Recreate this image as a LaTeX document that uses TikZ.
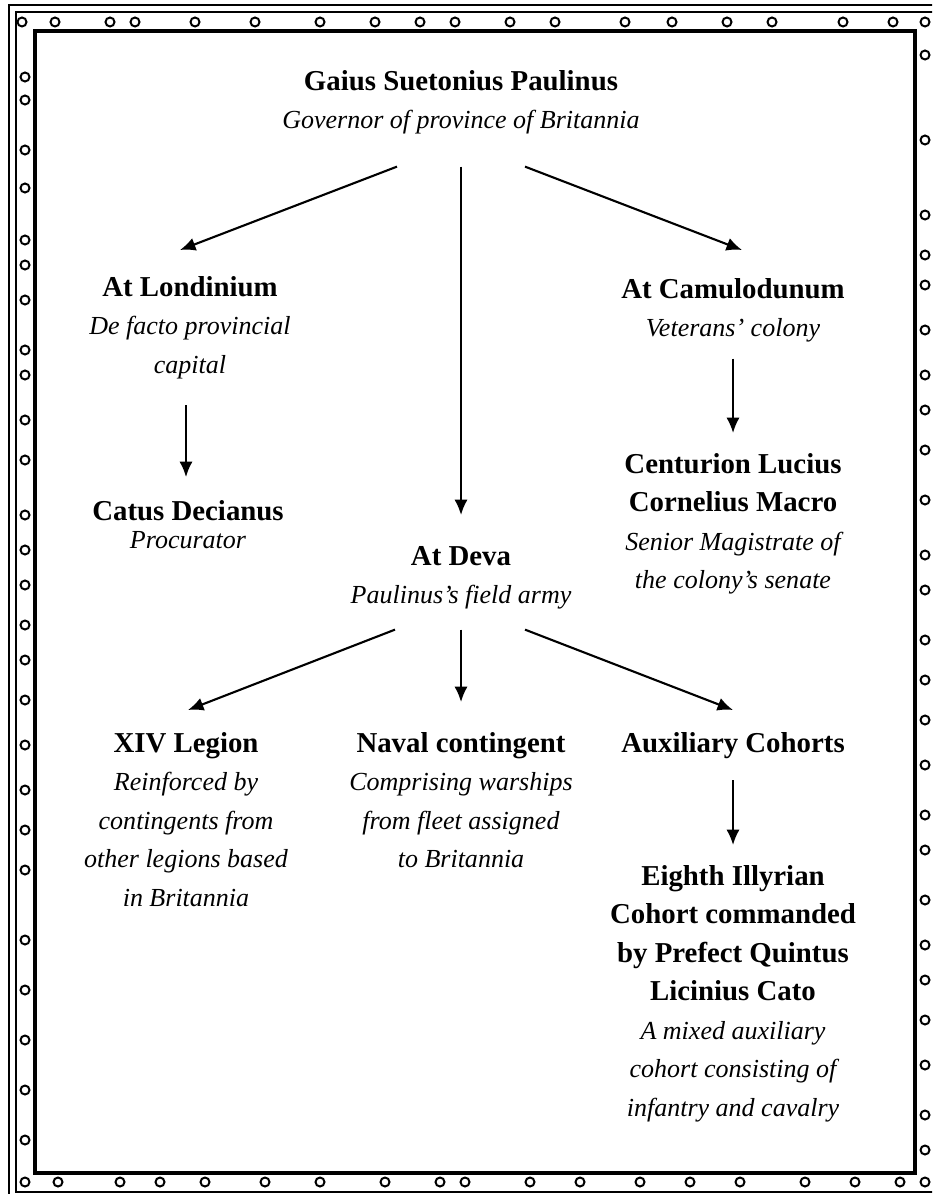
\documentclass[tikz,border=0pt]{standalone}
\usepackage{fontspec}
\setmainfont{Liberation Serif}
\usetikzlibrary{positioning,calc,arrows.meta}

\newcommand{\nm}[1]{{\fontsize{20.5}{27.4}\selectfont\bfseries\strut #1}}
\newcommand{\ds}[1]{{\fontsize{18.5}{27.4}\selectfont\itshape\strut #1}}

\begin{document}
\begin{tikzpicture}[x=0.025cm, y=-0.025cm,
  post/.style={align=center, inner sep=0pt, anchor=north, font=\fontsize{20.5}{27.4}\selectfont},
  cmd/.style={line width=1.5pt, -{Latex[length=11pt,width=9.5pt]}},
  ring/.style={line width=1.4pt},
  frame/.style={line width=2.9pt}]
\useasboundingbox (0,0) rectangle (932,1194);
\fill[white] (0,0) rectangle (932,1194);
% border
\begin{scope}
\clip (0,0) rectangle (932,1194);
\draw[line width=1.7pt] (9,5) rectangle (941,1199);
\draw[line width=1.7pt] (16,12) rectangle (934,1192);
\draw[frame] (35,31) rectangle (915,1173);
\foreach \x in {22,55,110,135,195,255,320,375,420,455,510,555,625,672,727,772,843,893}
  \draw[ring] (\x,22) circle (4.5);
\foreach \x in {25,58,120,160,205,265,320,385,440,465,530,580,640,690,740,805,855,900}
  \draw[ring] (\x,1182) circle (4.5);
\foreach \y in {77,100,150,188,240,265,300,350,375,420,460,515,550,585,625,660,700,745,790,830,870,940,990,1040,1090,1140}
  \draw[ring] (25,\y) circle (4.5);
\foreach \y in {22,55,140,215,255,285,330,375,410,450,500,555,590,640,680,720,765,815,850,900,945,980,1020,1065,1115,1150,1182}
  \draw[ring] (925,\y) circle (4.5);
\end{scope}

\node[post] (gov) at (461,63) {\nm{Gaius Suetonius Paulinus}\\\ds{Governor of province of Britannia}};
\node[post] (lon) at (190,269) {\nm{At Londinium}\\\ds{De facto provincial}\\\ds{capital}};
\node[post] (cat) at (188,493) {\nm{Catus Decianus}\\[-7pt]\ds{Procurator}};
\node[post] (cam) at (733,271) {\nm{At Camulodunum}\\\ds{Veterans' colony}};
\node[post] (cen) at (733,446) {\nm{Centurion Lucius}\\\nm{Cornelius Macro}\\\ds{Senior Magistrate of}\\\ds{the colony's senate}};
\node[post] (dev) at (461,538) {\nm{At Deva}\\\ds{Paulinus's field army}};
\node[post] (xiv) at (186,725) {\nm{XIV Legion}\\\ds{Reinforced by}\\\ds{contingents from}\\\ds{other legions based}\\\ds{in Britannia}};
\node[post] (nav) at (461,725) {\nm{Naval contingent}\\\ds{Comprising warships}\\\ds{from fleet assigned}\\\ds{to Britannia}};
\node[post] (aux) at (733,725) {\nm{Auxiliary Cohorts}};
\node[post] (ill) at (733,858) {\nm{Eighth Illyrian}\\\nm{Cohort commanded}\\\nm{by Prefect Quintus}\\\nm{Licinius Cato}\\\ds{A mixed auxiliary}\\\ds{cohort consisting of}\\\ds{infantry and cavalry}};

\draw[cmd] ($(gov.south)+(-64,26)$) -- ($(lon.north)+(-10,-19)$);
\draw[cmd] ($(gov.south)+(0,26)$) -- ($(dev.north)+(0,-23)$);
\draw[cmd] ($(gov.south)+(64,26)$) -- ($(cam.north)+(9,-21)$);
\draw[cmd] ($(lon.south)+(-4,20)$) -- ($(cat.north)+(-2,-16)$);
\draw[cmd] ($(cam.south)+(0,10)$) -- ($(cen.north)+(0,-13)$);
\draw[cmd] ($(dev.south)+(-66,14)$) -- ($(xiv.north)+(2,-15)$);
\draw[cmd] ($(dev.south)+(0,14)$) -- ($(nav.north)+(0,-23)$);
\draw[cmd] ($(dev.south)+(64,14)$) -- ($(aux.north)+(0,-15)$);
\draw[cmd] ($(aux.south)+(0,16)$) -- ($(ill.north)+(0,-13)$);
\end{tikzpicture}
\end{document}
